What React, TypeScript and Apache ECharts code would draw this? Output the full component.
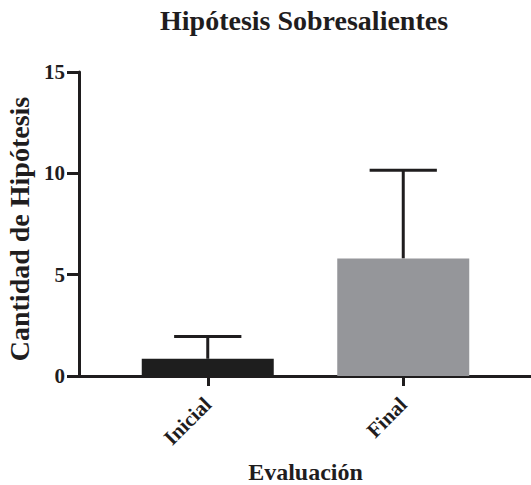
import React, { useEffect, useRef } from "react";
import * as echarts from "echarts";

const categories = ["Inicial", "Final"];
const means = [0.85, 5.8];
const sds = [1.1, 4.35];
const barColors = ["#1e1e1e", "#95969a"];
const yTicks = [0, 5, 10, 15];

const FONT = '"Liberation Serif", "Times New Roman", serif';
const INK = "#1f1d1e";

export default function App() {
  const ref = useRef<HTMLDivElement>(null);
  useEffect(() => {
    if (!ref.current) return;
    document.body.style.margin = "0";
    const chart = echarts.init(ref.current, undefined, { renderer: "svg" });
    const errData = categories.map((c, i) => [i, means[i], means[i] + sds[i]]);
    chart.setOption({
      animation: false,
      backgroundColor: "#ffffff",
      title: {
        text: "Hipótesis Sobresalientes",
        left: 160,
        top: 6,
        padding: 0,
        textStyle: { fontFamily: FONT, fontWeight: "bold", fontSize: 28, color: INK },
      },
      grid: [
        { left: 110, right: 30, top: 72, bottom: 109, containLabel: false, outerBoundsMode: "none" },
        { left: 78, right: 0, top: 72, bottom: 109, containLabel: false, outerBoundsMode: "none" },
      ],
      xAxis: [
        {
          type: "category",
          gridIndex: 0,
          data: categories,
          name: "Evaluación",
          nameLocation: "middle",
          nameGap: 84,
          nameTextStyle: { fontFamily: FONT, fontWeight: "bold", fontSize: 24, color: INK },
          axisLine: { show: false },
          axisTick: { show: true, alignWithLabel: true, length: 10, lineStyle: { color: INK, width: 3 } },
          axisLabel: {
            rotate: 45,
            margin: 25,
            fontFamily: FONT,
            fontWeight: "bold",
            fontSize: 21,
            color: INK,
          },
          splitLine: { show: false },
        },
        {
          type: "value",
          gridIndex: 1,
          min: 0,
          max: 1,
          position: "bottom",
          axisLine: { show: true, onZero: false, lineStyle: { color: INK, width: 3 } },
          axisTick: { show: false },
          axisLabel: { show: false },
          splitLine: { show: false },
        },
      ],
      yAxis: [
        {
          type: "value",
          gridIndex: 0,
          min: yTicks[0],
          max: yTicks[yTicks.length - 1],
          interval: 5,
          offset: 31,
          name: "Cantidad de Hipótesis",
          nameLocation: "middle",
          nameGap: 46,
          nameTextStyle: { fontFamily: FONT, fontWeight: "bold", fontSize: 28, color: INK, padding: [0, 10, 0, 0] },
          axisLine: { show: true, lineStyle: { color: INK, width: 3 } },
          axisTick: { show: true, length: 12, lineStyle: { color: INK, width: 3 } },
          axisLabel: { margin: 14, fontFamily: FONT, fontWeight: "bold", fontSize: 21, color: INK },
          splitLine: { show: false },
        },
        { type: "value", gridIndex: 1, min: 0, max: 1, show: false },
      ],
      series: [
        {
          type: "bar",
          xAxisIndex: 0,
          yAxisIndex: 0,
          barWidth: 132,
          data: means.map((v, i) => ({ value: v, itemStyle: { color: barColors[i] } })),
        },
        {
          type: "custom",
          xAxisIndex: 0,
          yAxisIndex: 0,
          data: errData,
          renderItem: (params: any, api: any) => {
            const x = api.value(0);
            const p0 = api.coord([x, api.value(1)]);
            const p1 = api.coord([x, api.value(2)]);
            const half = api.size([1, 0])[0] * 0.172;
            const style = { stroke: INK, lineWidth: 3 };
            return {
              type: "group",
              children: [
                { type: "line", shape: { x1: p0[0], y1: p0[1], x2: p1[0], y2: p1[1] }, style },
                { type: "line", shape: { x1: p1[0] - half, y1: p1[1], x2: p1[0] + half, y2: p1[1] }, style },
              ],
            };
          },
        },
      ],
    });
    return () => chart.dispose();
  }, []);
  return <div ref={ref} style={{ width: 531, height: 485 }} />;
}
